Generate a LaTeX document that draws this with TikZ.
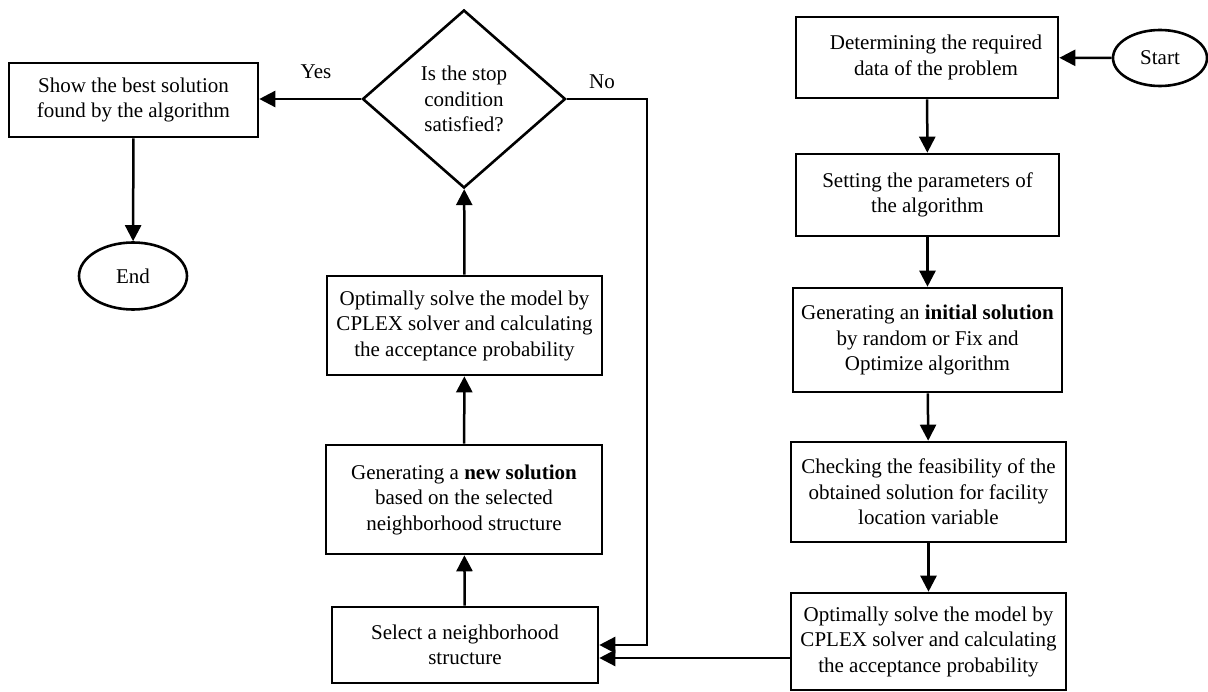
\documentclass[tikz,border=0pt]{standalone}
\usepackage{fontspec}
\setmainfont{Liberation Serif}
\usetikzlibrary{arrows.meta,shapes.geometric}
\begin{document}
\begin{tikzpicture}[x=1pt,y=-1pt,
  every node/.style={font=\fontsize{21}{25.5}\selectfont, align=center},
  box/.style={draw, line width=2.6pt, inner sep=0pt},
  term/.style={draw, ellipse, line width=2.6pt, inner sep=0pt},
  arr/.style={line width=2.5pt, -{Triangle[length=16pt,width=16pt]}},
  lbl/.style={inner sep=0pt}
]
\useasboundingbox (0,0) rectangle (1208,692);
% right column
\node[term, minimum width=94pt, minimum height=56pt] (start) at (1160,58) {Start};
\node[box, minimum width=262pt, minimum height=81pt] (det) at (927,57.5) {\hspace*{18pt}Determining the required\\\hspace*{18pt}data of the problem};
\node[box, minimum width=263pt, minimum height=82pt] (set) at (927.5,195) {Setting the parameters of\\the algorithm};
\node[box, minimum width=269pt, minimum height=104pt] (init) at (927.5,340) {Generating an \textbf{initial solution}\\by random or Fix and\\Optimize algorithm};
\node[box, minimum width=275pt, minimum height=100pt] (check) at (928.5,492) {Checking the feasibility of the\\obtained solution for facility\\location variable};
\node[box, minimum width=275pt, minimum height=97pt] (opt2) at (928.5,641.5) {Optimally solve the model by\\CPLEX solver and calculating\\the acceptance probability};
% middle column
\node[box, minimum width=266pt, minimum height=76pt] (sel) at (465,645) {Select a neighborhood\\structure};
\node[box, minimum width=276pt, minimum height=109pt] (newsol) at (464,499.5) {Generating a \textbf{new solution}\\based on the selected\\neighborhood structure};
\node[box, minimum width=275pt, minimum height=99pt] (opt1) at (464.5,325.5) {Optimally solve the model by\\CPLEX solver and calculating\\the acceptance probability};
\node[draw, diamond, line width=2.6pt, inner sep=0pt, shape aspect=1.14, minimum width=203pt, minimum height=178pt] (dia) at (464,99) {Is the stop\\condition\\satisfied?};
% left column
\node[box, minimum width=249pt, minimum height=74pt] (show) at (133.5,100) {Show the best solution\\found by the algorithm};
\node[term, minimum width=108pt, minimum height=67pt] (end) at (133,276) {End};
% labels
\node[lbl] (yes) at (316,72) {Yes};
\node[lbl] (no) at (602,82) {No};
\coordinate (nc) at (647,99);
% connectors
\draw[arr] (start) -- (det);
\draw[arr] (det) -- (set);
\draw[arr] (set) -- (init);
\draw[arr] (init) -- (check);
\draw[arr] (check) -- (opt2);
\draw[arr] ([yshift=-13pt]sel.east -| opt2.west) -- ([yshift=-13pt]sel.east);
\draw[arr] (sel) -- (newsol);
\draw[arr] (newsol) -- (opt1);
\draw[arr] (opt1) -- (dia);
\draw[arr] (dia.east) -- (nc) |- (sel.east);
\draw[arr] (dia.west) -- (dia.west -| show.east);
\draw[arr] (show) -- (end);
\end{tikzpicture}
\end{document}
